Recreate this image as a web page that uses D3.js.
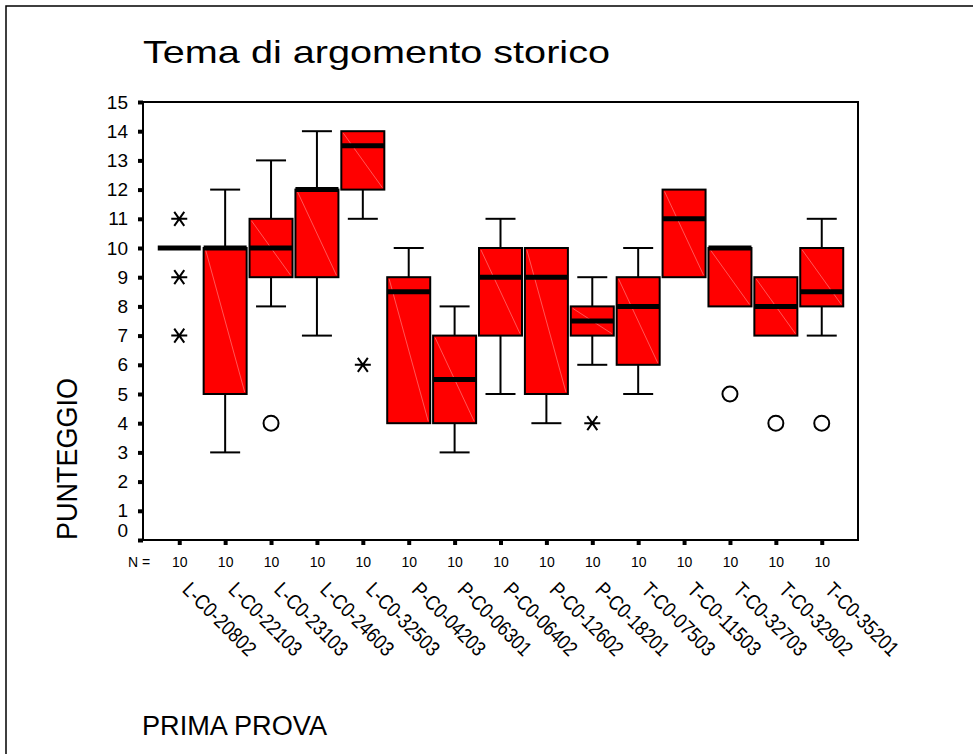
<!DOCTYPE html>
<html>
<head>
<meta charset="utf-8">
<script src="https://cdn.jsdelivr.net/npm/d3@7"></script>
<style>
  body { margin: 0; background: #fff; }
  text { font-family: "Liberation Sans", Arial, sans-serif; fill: #000; }
</style>
</head>
<body>
<div id="chart"></div>
<script>
// Data
const categories = [
	"L-C0-20802", "L-C0-22103", "L-C0-23103", "L-C0-24603", "L-C0-32503",
	"P-C0-04203", "P-C0-06301", "P-C0-06402", "P-C0-12602", "P-C0-18201",
	"T-C0-07503", "T-C0-11503", "T-C0-32703", "T-C0-32902", "T-C0-35201",
];
const nCounts = [10, 10, 10, 10, 10, 10, 10, 10, 10, 10, 10, 10, 10, 10, 10];
const q1 = [10, 5, 9, 9, 12, 4, 4, 7, 5, 7, 6, 9, 8, 7, 8];
const median = [10, 10, 10, 12, 13.5, 8.5, 5.5, 9, 9, 7.5, 8, 11, 10, 8, 8.5];
const q3 = [10, 10, 11, 12, 14, 9, 7, 10, 10, 8, 9, 12, 10, 9, 10];
const whiskerLow = [10, 3, 8, 7, 11, 4, 3, 5, 4, 6, 5, 9, 8, 7, 7];
const whiskerHigh = [10, 12, 13, 14, 14, 10, 8, 11, 10, 9, 10, 12, 10, 9, 11];
// outliers (circles) and extremes (asterisks)
const outlierCats = ["L-C0-23103", "T-C0-32703", "T-C0-32902", "T-C0-35201"];
const outlierValues = [4, 5, 4, 4];
const extremeCats = ["L-C0-20802", "L-C0-20802", "L-C0-20802", "L-C0-32503", "P-C0-18201"];
const extremeValues = [11, 9, 7, 6, 4];
const yTicks = d3.range(0, 16);

const width = 973;
const height = 754;
const plot = { left: 143, right: 858, top: 102, bottom: 540 };

const svg = d3.select("#chart").append("svg").attr("width", width).attr("height", height);

// outer frame (runs off the right and bottom edges)
svg.append("rect")
	.attr("x", 6).attr("y", 6)
	.attr("width", 990).attr("height", 780)
	.attr("fill", "#fff").attr("stroke", "#000").attr("stroke-width", 1.5);

const x = d3.scalePoint().domain(categories).range([plot.left, plot.right]).padding(0.79);
const y = d3.scaleLinear().domain([0, 15]).range([plot.bottom, plot.top]);

const boxW = 43;
const capW = 30;

// plot frame
svg.append("rect")
	.attr("x", plot.left).attr("y", plot.top)
	.attr("width", plot.right - plot.left).attr("height", plot.bottom - plot.top)
	.attr("fill", "none").attr("stroke", "#000").attr("stroke-width", 2);

// y axis
const yAxis = svg.append("g")
	.attr("transform", `translate(${plot.left},0)`)
	.call(d3.axisLeft(y).tickValues(yTicks).tickSize(5).tickPadding(10));
yAxis.select(".domain").remove();
yAxis.selectAll(".tick line").attr("stroke-width", 4);
yAxis.selectAll(".tick text").style("font-size", "19px");
yAxis.selectAll(".tick").filter((d) => d === 0).select("text").attr("dy", "-0.2em");

// x axis with N counts
const xAxis = svg.append("g")
	.attr("transform", `translate(0,${plot.bottom})`)
	.call(d3.axisBottom(x).tickSize(5).tickPadding(12).tickFormat((d, i) => nCounts[i]));
xAxis.select(".domain").remove();
xAxis.selectAll(".tick line").attr("stroke-width", 4);
xAxis.selectAll(".tick text").style("font-size", "14px");

svg.append("text")
	.attr("x", 128).attr("y", 567)
	.style("font-size", "14px")
	.text("N =");

// category labels
svg.selectAll(".cat-label")
	.data(categories)
	.join("text")
	.attr("class", "cat-label")
	.attr("transform", (d) => `translate(${x(d) + 2},${591}) rotate(45)`)
	.attr("textLength", 94)
	.attr("lengthAdjust", "spacingAndGlyphs")
	.style("font-size", "21px")
	.text((d) => d);

// boxes
const boxes = categories.map((c, i) => ({
	cat: c, q1: q1[i], med: median[i], q3: q3[i], lo: whiskerLow[i], hi: whiskerHigh[i],
}));

const g = svg.append("g");

boxes.forEach((b) => {
	const cx = x(b.cat);
	// whiskers
	if (b.hi > b.q3) {
		g.append("line").attr("x1", cx).attr("x2", cx).attr("y1", y(b.hi)).attr("y2", y(b.q3))
			.attr("stroke", "#000").attr("stroke-width", 2);
		g.append("line").attr("x1", cx - capW / 2).attr("x2", cx + capW / 2).attr("y1", y(b.hi)).attr("y2", y(b.hi))
			.attr("stroke", "#000").attr("stroke-width", 2);
	}
	if (b.lo < b.q1) {
		g.append("line").attr("x1", cx).attr("x2", cx).attr("y1", y(b.q1)).attr("y2", y(b.lo))
			.attr("stroke", "#000").attr("stroke-width", 2);
		g.append("line").attr("x1", cx - capW / 2).attr("x2", cx + capW / 2).attr("y1", y(b.lo)).attr("y2", y(b.lo))
			.attr("stroke", "#000").attr("stroke-width", 2);
	}
	if (b.q3 > b.q1) {
		g.append("rect")
			.attr("x", cx - boxW / 2).attr("y", y(b.q3))
			.attr("width", boxW).attr("height", y(b.q1) - y(b.q3))
			.attr("fill", "#ff0000").attr("stroke", "#000").attr("stroke-width", 2);
		// faint diagonal seen in the original fill
		g.append("line")
			.attr("x1", cx - boxW / 2 + 2).attr("y1", y(b.q3) + 2)
			.attr("x2", cx + boxW / 2 - 2).attr("y2", y(b.q1) - 2)
			.attr("stroke", "#ff9090").attr("stroke-width", 0.6);
	}
	g.append("line")
		.attr("x1", cx - boxW / 2).attr("x2", cx + boxW / 2)
		.attr("y1", y(b.med)).attr("y2", y(b.med))
		.attr("stroke", "#000").attr("stroke-width", 5);
});

// outliers
g.selectAll(".outlier")
	.data(outlierCats.map((c, i) => ({ cat: c, v: outlierValues[i] })))
	.join("circle")
	.attr("class", "outlier")
	.attr("cx", (d) => x(d.cat))
	.attr("cy", (d) => y(d.v))
	.attr("r", 7.5)
	.attr("fill", "none").attr("stroke", "#000").attr("stroke-width", 2);

// extremes
const star = "M-8,0L8,0M-5,-7L5,7M-5,7L5,-7";
g.selectAll(".extreme")
	.data(extremeCats.map((c, i) => ({ cat: c, v: extremeValues[i] })))
	.join("path")
	.attr("class", "extreme")
	.attr("transform", (d) => `translate(${x(d.cat)},${y(d.v)})`)
	.attr("d", star)
	.attr("fill", "none").attr("stroke", "#000").attr("stroke-width", 2);

// titles
svg.append("text")
	.attr("x", 143).attr("y", 63)
	.attr("textLength", 467).attr("lengthAdjust", "spacingAndGlyphs")
	.style("font-size", "32px")
	.text("Tema di argomento storico");

svg.append("text")
	.attr("transform", "translate(77,459) rotate(-90)")
	.attr("text-anchor", "middle")
	.attr("textLength", 162).attr("lengthAdjust", "spacingAndGlyphs")
	.style("font-size", "29px")
	.text("PUNTEGGIO");

svg.append("text")
	.attr("x", 142).attr("y", 735)
	.attr("textLength", 185).attr("lengthAdjust", "spacingAndGlyphs")
	.style("font-size", "27px")
	.text("PRIMA PROVA");
</script>
</body>
</html>
